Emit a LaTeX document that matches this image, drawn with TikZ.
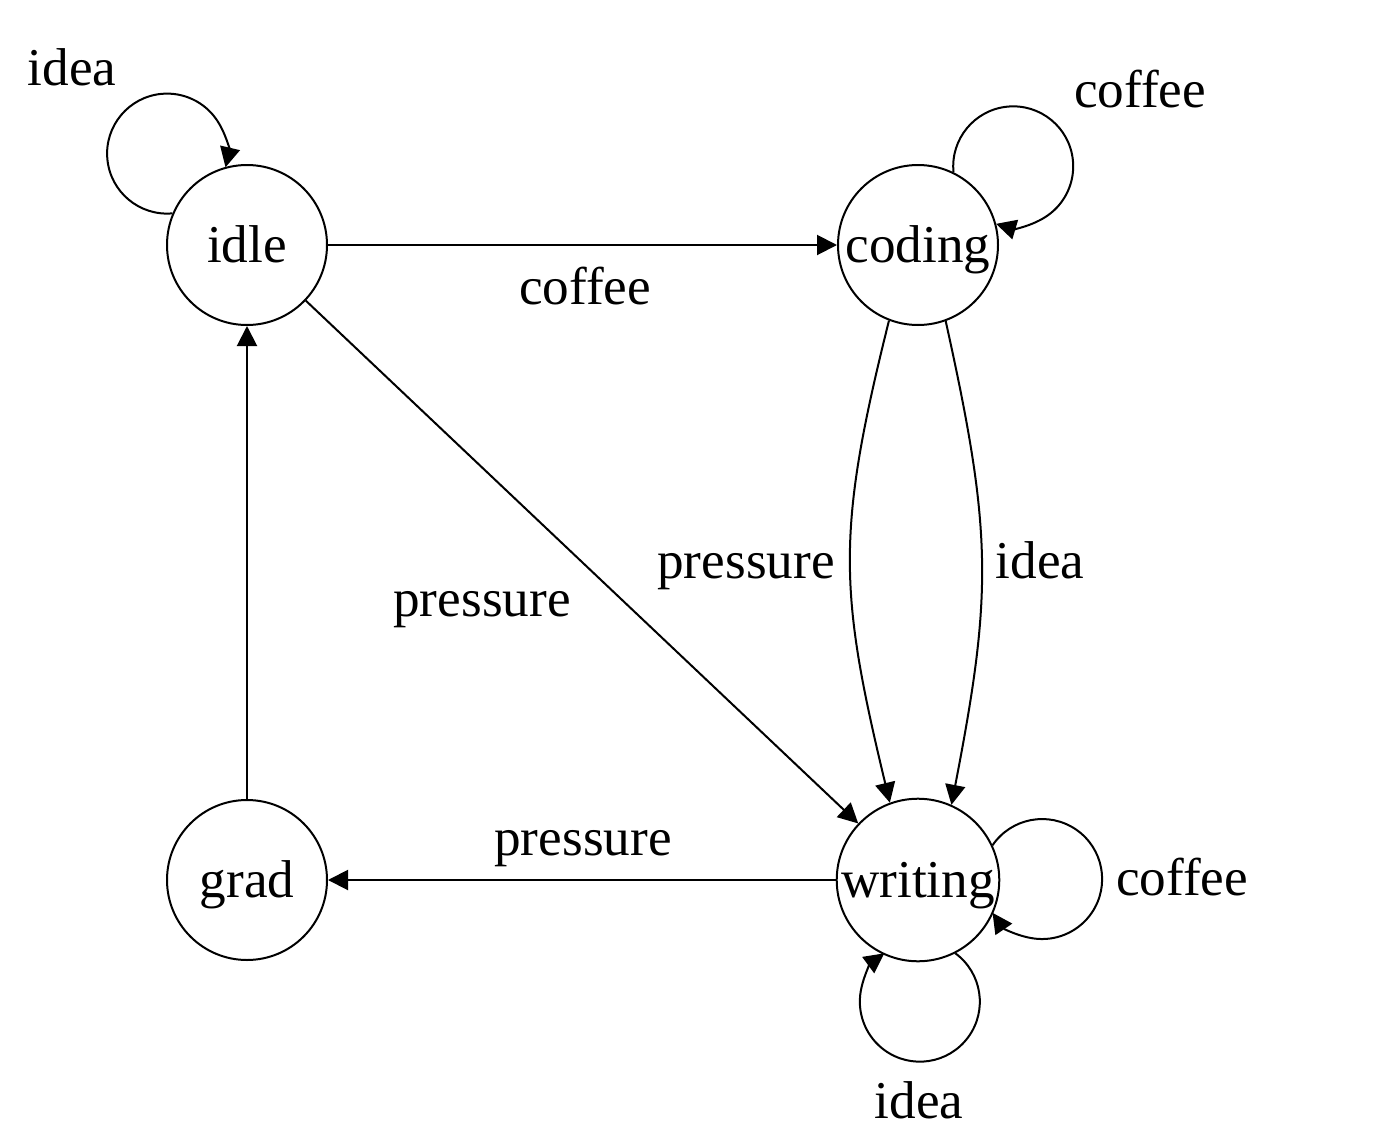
\documentclass[tikz,border=0pt]{standalone}
\usepackage{fontspec}
\setmainfont{Liberation Serif}
\usetikzlibrary{arrows.meta}
\begin{document}
\begin{tikzpicture}[x=0.5pt,y=0.5pt,
  every node/.style={font=\fontsize{26.6pt}{30pt}\selectfont},
  state/.style={draw, circle, line width=1pt, minimum size=80pt, inner sep=0pt, text height=22pt, text depth=5pt},
  edge/.style={draw, line width=1pt, -{Triangle[length=10pt,width=10pt]}},
  lab/.style={anchor=base, inner sep=0pt}]
\useasboundingbox (0,0) rectangle (1378,-1146);
\node[state] (idle) at (247,-245) {idle};
\node[state] (coding) at (918,-245) {coding};
\node[state] (writing) at (918,-880) {writing};
\node[state] (grad) at (247,-880) {grad};
% loops
\draw[edge] (idle.157) arc[start angle=-84.9, end angle=-373.2, radius=30pt]
  node[lab] (l1) at (72,-85) {idea};
\draw[edge] (coding.64.2) arc[start angle=185.6, end angle=-106.6, radius=30pt]
  node[lab] (l2) at (1140,-107) {coffee};
\draw[edge] (writing.25) arc[start angle=145.7, end angle=-145.7, radius=30pt]
  node[lab] (l3) at (1182,-895) {coffee};
\draw[edge] (writing.-63.7) arc[start angle=53.7, end angle=-233.7, radius=30pt]
  node[lab] (l4) at (919,-1118) {idea};
% straight edges
\draw[edge] (idle) -- (coding) node[lab] (l5) at (585,-304) {coffee};
\draw[edge] (idle) -- (writing) node[lab] (l6) at (482,-616) {pressure};
\draw[edge] (writing) -- (grad) node[lab] (l7) at (583,-855) {pressure};
\draw[edge] (grad) -- (idle);
% curved edges
\draw[edge] (coding.249) .. controls +(-53,-212) and +(-51,212) .. (writing.110.4)
  node[lab] (l8) at (746,-578) {pressure};
\draw[edge] (coding.290.4) .. controls +(47,-212) and +(41,212) .. (writing.66.4)
  node[lab] (l9) at (1040,-578) {idea};
\end{tikzpicture}
\end{document}
